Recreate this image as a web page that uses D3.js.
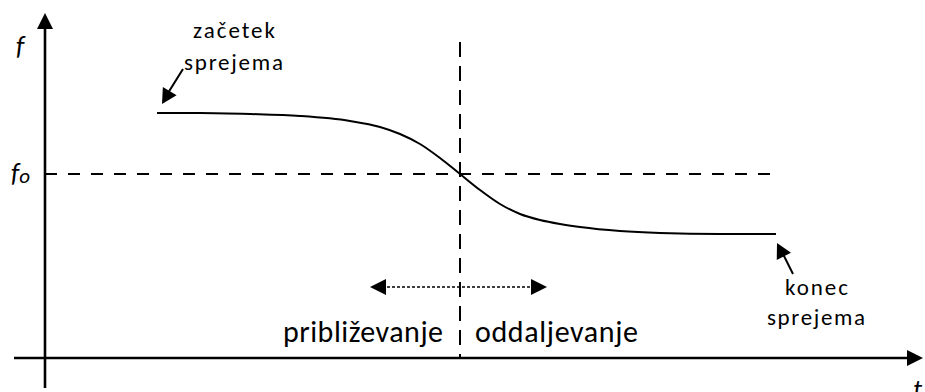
<!DOCTYPE html>
<html>
<head>
<meta charset="utf-8">
<script src="https://cdn.jsdelivr.net/npm/d3@7"></script>
<style>
  body { margin: 0; background: #fff; }
  svg text { font-family: Carlito, Calibri, Lato, sans-serif; fill: #000; }
</style>
</head>
<body>
<div id="chart"></div>
<script>
// frequency vs time (Doppler), arbitrary units
var curveT = [112, 155, 205, 255, 305, 335, 355, 375, 395, 415, 435, 455, 475, 495, 515, 535, 575, 615, 675, 731];
var curveF = [245, 245, 244, 242, 237, 231, 224, 214, 200, 184, 168, 154, 144, 138, 134, 131, 127, 125, 124, 124];
var f0 = 184;        // level of the horizontal dashed line
var t0 = 415;        // moment of closest approach (vertical dashed line)
var refEnd = 735;    // where the f0 line stops
var vTop = 316;      // top of the vertical dashed line
var spanT = [325, 502], spanF = 71;   // dotted double arrow
var labels = ["začetek", "sprejema", "konec", "sprejema", "približevanje", "oddaljevanje"];

const width = 925, height = 392;
var svg = d3.select("#chart").append("svg")
  .attr("width", width).attr("height", height);

var x = d3.scaleLinear().domain([0, 880]).range([45, 925]);
var y = d3.scaleLinear().domain([0, 345]).range([358, 13]);

// small filled triangle at (x2,y2) pointing away from (x1,y1)
var arrowHead = function(x1, y1, x2, y2, len, hw) {
  var a = Math.atan2(y2 - y1, x2 - x1);
  var bx = x2 - len * Math.cos(a), by = y2 - len * Math.sin(a);
  var px = -Math.sin(a) * hw, py = Math.cos(a) * hw;
  svg.append("path")
    .attr("d", "M" + x2 + "," + y2 + "L" + (bx + px) + "," + (by + py) + "L" + (bx - px) + "," + (by - py) + "Z")
    .style("fill", "#000");
};

// axes
svg.append("line")
  .attr("x1", x(0)).attr("y1", 388).attr("x2", x(0)).attr("y2", y(345) + 4)
  .style("stroke", "#000").style("stroke-width", 2.6);
arrowHead(x(0), 100, x(0), y(345), 16, 8);

svg.append("line")
  .attr("x1", 14).attr("y1", y(0)).attr("x2", x(873)).attr("y2", y(0))
  .style("stroke", "#000").style("stroke-width", 2.6);
arrowHead(800, y(0), x(880) - 2, y(0), 16, 8);

svg.append("text").attr("x", 16).attr("y", 55)
  .style("font-size", "27px").style("font-style", "italic").text("f");
svg.append("text").attr("x", 913).attr("y", 398)
  .style("font-size", "27px").style("font-style", "italic").text("t");

var f0lab = svg.append("text").attr("x", 11).attr("y", y(f0) + 8)
  .style("font-size", "27px").style("font-style", "italic").text("f");
f0lab.append("tspan").attr("dx", 0).attr("dy", 1).style("font-size", "21px").text("o");

// dashed references
svg.append("line")
  .attr("x1", x(0)).attr("y1", y(f0)).attr("x2", x(refEnd)).attr("y2", y(f0))
  .style("stroke", "#000").style("stroke-width", 2).style("stroke-dasharray", "12,11");
svg.append("line")
  .attr("x1", x(t0)).attr("y1", y(vTop)).attr("x2", x(t0)).attr("y2", y(0))
  .style("stroke", "#000").style("stroke-width", 2).style("stroke-dasharray", "15,9");

// the curve
var pts = curveT.map(function(t, i) { return [t, curveF[i]]; });
var line = d3.line()
  .x(function(d) { return x(d[0]); })
  .y(function(d) { return y(d[1]); })
  .curve(d3.curveMonotoneX);
svg.append("path").datum(pts)
  .attr("d", line)
  .style("fill", "none").style("stroke", "#000").style("stroke-width", 2);

// dotted double arrow
svg.append("line")
  .attr("x1", x(spanT[0]) + 12).attr("y1", y(spanF)).attr("x2", x(spanT[1]) - 12).attr("y2", y(spanF))
  .style("stroke", "#000").style("stroke-width", 1.6).style("stroke-dasharray", "3,2");
arrowHead(x(spanT[1]), y(spanF), x(spanT[0]), y(spanF), 16, 8);
arrowHead(x(spanT[0]), y(spanF), x(spanT[1]), y(spanF), 16, 8);

// annotation arrows
svg.append("line").attr("x1", 183).attr("y1", 69).attr("x2", 168).attr("y2", 93)
  .style("stroke", "#000").style("stroke-width", 2);
arrowHead(183, 69, x(curveT[0]) + 5, 104, 15, 8);
svg.append("line").attr("x1", 793).attr("y1", 274).attr("x2", 783).attr("y2", 254)
  .style("stroke", "#000").style("stroke-width", 2);
arrowHead(793, 274, 777, 243, 15, 8);

// text labels
var lab = [
  [193, 38, 82, 23], [184, 70, 99, 23],
  [785, 295, 63, 23], [767, 325, 98, 23],
  [283, 342, 160, 30], [475, 342, 163, 30]
];
svg.selectAll("text.lab").data(labels).enter().append("text")
  .attr("class", "lab")
  .attr("x", function(d, i) { return lab[i][0]; })
  .attr("y", function(d, i) { return lab[i][1]; })
  .attr("textLength", function(d, i) { return lab[i][2]; })
  .attr("lengthAdjust", "spacing")
  .style("font-size", function(d, i) { return lab[i][3] + "px"; })
  .text(function(d) { return d; });
</script>
</body>
</html>
